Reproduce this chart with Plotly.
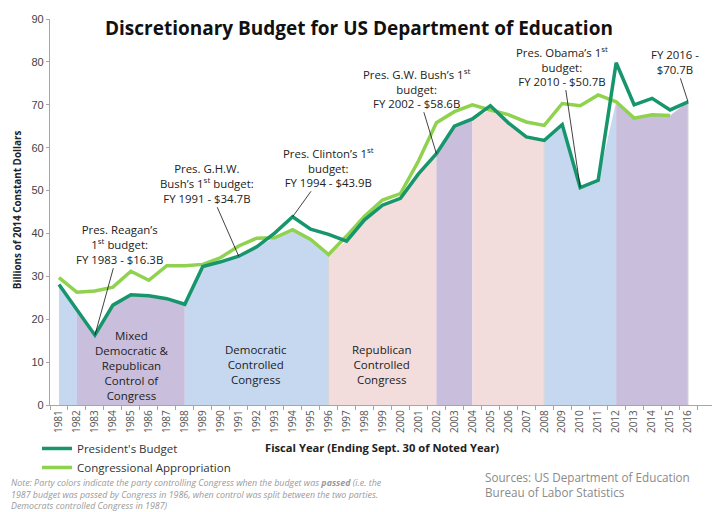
import plotly.graph_objects as go

# Данные (млрд долл. 2014 г.)
years = list(range(1981, 2017))
president = [28.1, 22.3, 16.3, 23.3, 25.7, 25.5, 24.8, 23.5, 32.3, 33.4,
             34.7, 36.9, 40.1, 43.9, 41.0, 39.8, 38.2, 43.2, 46.6, 48.2,
             53.9, 58.6, 65.0, 66.7, 69.8, 65.8, 62.5, 61.7, 65.4, 50.7,
             52.4, 79.8, 70.0, 71.5, 68.8, 70.7]
congress = [29.7, 26.3, 26.6, 27.5, 31.2, 29.1, 32.5, 32.5, 32.8, 34.4,
            37.1, 38.9, 39.0, 40.9, 38.6, 35.1, 39.4, 44.0, 47.8, 49.3,
            56.9, 65.8, 68.4, 70.0, 68.8, 67.7, 66.0, 65.2, 70.3, 69.8,
            72.3, 70.7, 66.9, 67.7, 67.5, None]

# Периоды контроля Конгресса: начало, конец, цвет
region_start = [1981, 1982, 1988, 1996, 2002, 2004, 2008, 2012]
region_end = [1982, 1988, 1996, 2002, 2004, 2008, 2012, 2016]
region_color = ['#c6d8f0', '#c9bedb', '#c6d8f0', '#f2dcdc', '#c9bedb', '#f2dcdc', '#c6d8f0', '#c9bedb']
edge_years = [1996, 2008, 2016]  # границы, где видна тонкая серая черта

DARK = '#17966d'
LIGHT = '#8fd24e'
FONT = 'Open Sans'

# нижняя граница двух линий - по ней рисуем заливку
shade = [p if c is None else min(p, c) for p, c in zip(president, congress)]

# страница сдвинута на 8px (отступ body), поэтому всё считаем в координатах картинки
OFF = 8
L, R, T, B = 13, 715, 13, 502  # границы бумаги в пикселях картинки


def px_x(x):
    """пиксели картинки -> доли бумаги по x"""
    return (x - L) / (R - L)


def px_y(y):
    """пиксели картинки -> доли бумаги по y"""
    return (B - y) / (B - T)


fig = go.Figure()

for s, e, col in zip(region_start, region_end, region_color):
    i0, i1 = years.index(s), years.index(e)
    fig.add_trace(go.Scatter(x=years[i0:i1 + 1], y=shade[i0:i1 + 1], mode='lines',
                             line=dict(width=0), fill='tozeroy', fillcolor=col,
                             showlegend=False, hoverinfo='skip'))

# тонкие черты на границах заливки
ex, ey = [], []
for yr in edge_years:
    ex += [yr, yr, None]
    ey += [0, shade[years.index(yr)], None]
fig.add_trace(go.Scatter(x=ex, y=ey, mode='lines', line=dict(color='#d6d6d6', width=1),
                         showlegend=False, hoverinfo='skip'))

fig.add_trace(go.Scatter(x=years, y=congress, mode='lines', name='Congressional Appropriation',
                         line=dict(color=LIGHT, width=3.5), legendrank=2))
fig.add_trace(go.Scatter(x=years, y=president, mode='lines', name="President's Budget",
                         line=dict(color=DARK, width=3.5), legendrank=1))

# подписи с выносками
callouts = [
    (1983, "Pres. Reagan’s<br>1<sup>st</sup> budget:<br>FY 1983 - $16.3B", 25, -91),
    (1991, "Pres. G.H.W.<br>Bush’s 1<sup>st</sup> budget:<br>FY 1991 - $34.7B", -32, -73),
    (1994, "Pres. Clinton’s 1<sup>st</sup><br>budget:<br>FY 1994 - $43.9B", 36, -50),
    (2002, "Pres. G.W. Bush’s 1<sup>st</sup><br>budget:<br>FY 2002 - $58.6B", -20, -66),
    (2010, "Pres. Obama’s 1<sup>st</sup><br>budget:<br>FY 2010 - $50.7B", -18, -122),
    (2016, "FY 2016 -<br>$70.7B", -13, -40),
]
for yr, txt, ax, ay in callouts:
    fig.add_annotation(x=yr, y=president[years.index(yr)], text=txt, showarrow=True,
                       arrowhead=0, arrowwidth=0.8, arrowcolor='#111', ax=ax, ay=ay,
                       font=dict(family=FONT, size=11.4, color='#222'))


def note(x, y, txt, size, color='#222', **kw):
    """текст в координатах картинки"""
    kw.setdefault('xanchor', 'center')
    fig.add_annotation(xref='paper', yref='paper', x=px_x(x), y=px_y(y), text=txt,
                       yanchor='middle', showarrow=False,
                       font=dict(family=FONT, size=size, color=color), **kw)


# подписи периодов
note(131, 365, "Mixed<br>Democratic &<br>Republican<br>Control of<br>Congress", 11.5)
note(256, 364, "Democratic<br>Controlled<br>Congress", 11.5)
note(381, 364, "Republican<br>Controlled<br>Congress", 11.5)

note(359, 22, "<b>Discretionary Budget for US Department of Education</b>", 19, '#111')
note(382, 448, "<b>Fiscal Year (Ending Sept. 30 of Noted Year)</b>", 11.2)
note(17, 207, "<b>Billions of 2014 Constant Dollars</b>", 9.9, textangle=-90)
note(483, 485, "Sources: US Department of Education<br>Bureau of Labor Statistics", 11.7,
     '#8a8a8a', xanchor='left', align='left')
note(9, 495, "<i>Note: Party colors indicate the party controlling Congress when the budget was "
             "<b>passed</b> (i.e. the<br>1987 budget was passed by Congress in 1986, when control "
             "was split between the two parties.<br>Democrats controlled Congress in 1987)</i>",
     8.9, '#9a9a9a', xanchor='left', align='left')

fig.update_layout(
    width=720 - OFF, height=512 - OFF,
    margin=dict(l=L - OFF, r=720 - R, t=T - OFF, b=512 - B),
    paper_bgcolor='white', plot_bgcolor='white',
    font=dict(family=FONT, color='#444'),
    legend=dict(x=px_x(37), y=px_y(434), xanchor='left', yanchor='top',
                font=dict(family=FONT, size=11.5, color='#333'), itemwidth=30,
                tracegroupgap=0, bgcolor='rgba(0,0,0,0)'),
    showlegend=True,
)
fig.update_xaxes(domain=[px_x(50), 1], range=[1980.5, 2017.5], tickvals=years,
                 ticktext=[str(y) for y in years],
                 tickangle=-90, ticks='', showgrid=False, zeroline=False,
                 showline=True, linecolor='#a6a6a6', linewidth=1.2,
                 tickfont=dict(family=FONT, size=10, color='#555'),
                 minor=dict(tick0=1980.5, dtick=1, ticks='outside', ticklen=4,
                            tickcolor='#a6a6a6', showgrid=False))
fig.update_yaxes(domain=[px_y(404.7), 1], range=[0, 90], dtick=10, ticks='outside', ticklen=3,
                 tickcolor='#a6a6a6', showgrid=False, zeroline=False, showline=True,
                 linecolor='#a6a6a6', linewidth=1.2, ticklabeloverflow='allow',
                 tickfont=dict(family='Liberation Sans', size=11, color='#444'))

fig.write_html("out.html")
